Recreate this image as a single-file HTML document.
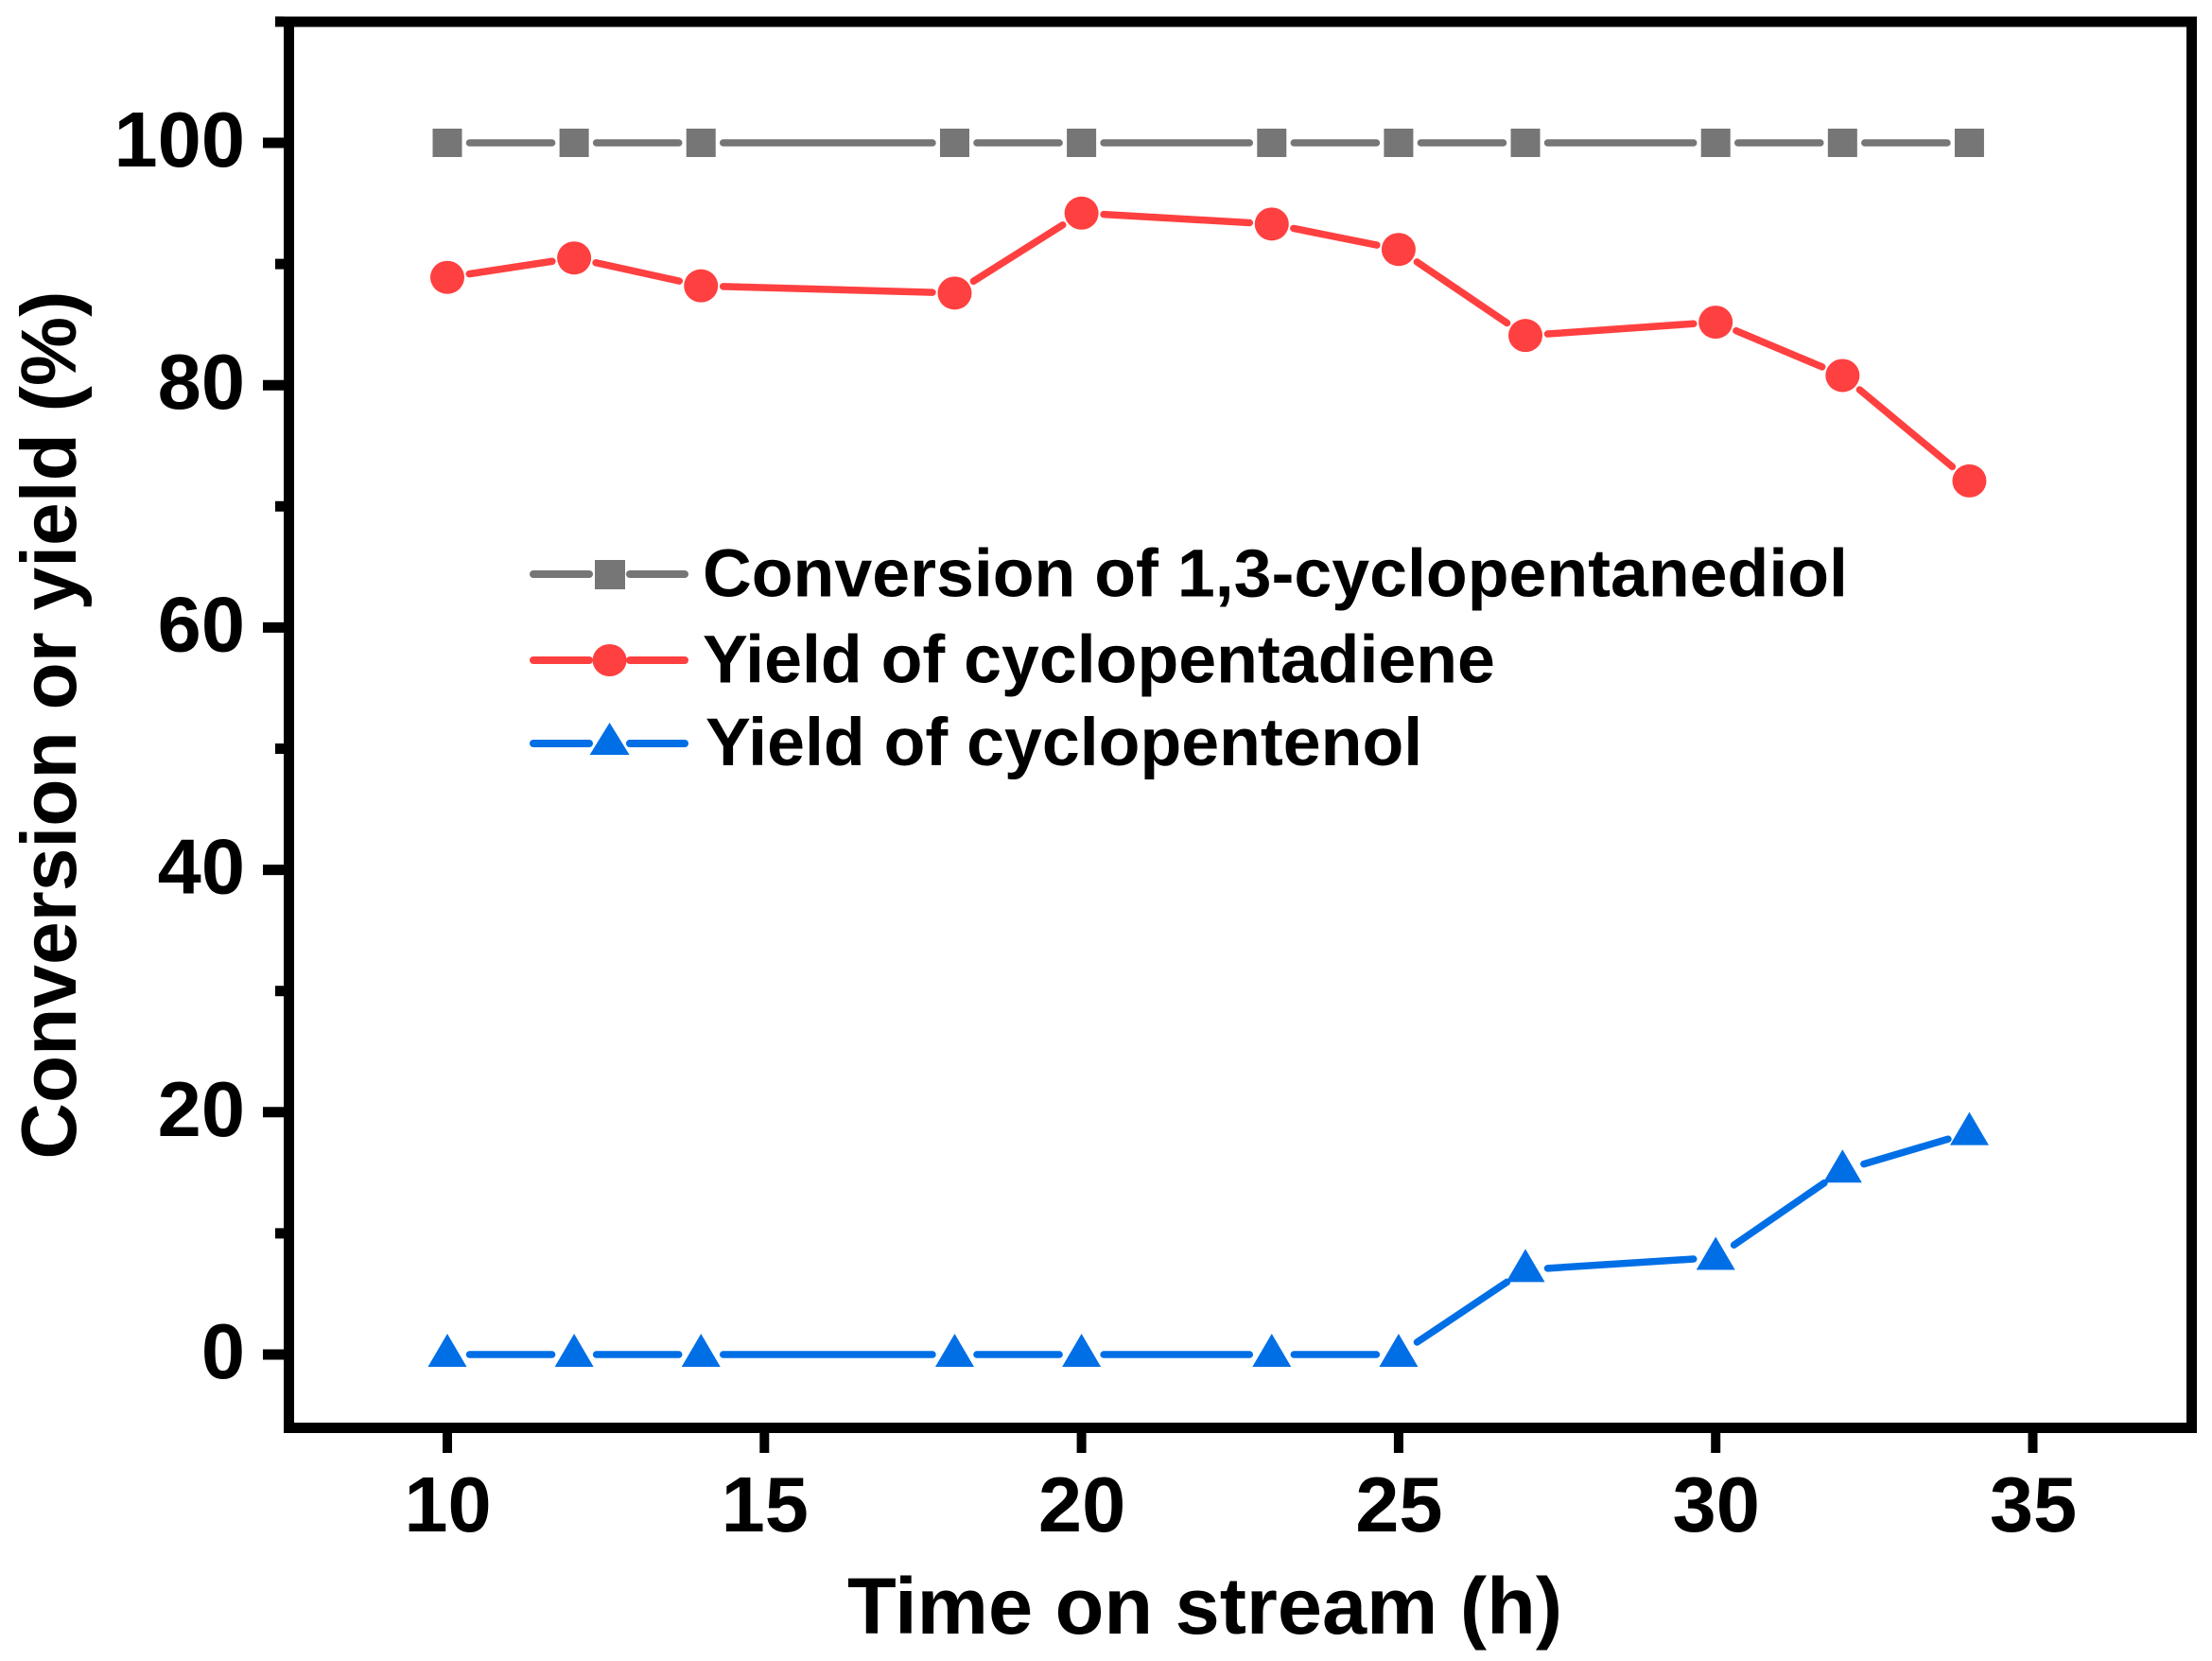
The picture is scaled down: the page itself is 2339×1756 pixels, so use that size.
<!DOCTYPE html>
<html lang="en">
<head>
<meta charset="utf-8">
<title>Conversion or yield vs time on stream</title>
<style>
html,body{margin:0;padding:0;background:#fff;}
svg{display:block;}
text{font-family:"Liberation Sans",Arial,sans-serif;font-weight:bold;fill:#000;}
</style>
</head>
<body>
<svg id="chart" xmlns="http://www.w3.org/2000/svg" width="2339" height="1756" viewBox="0 0 2339 1756">
  <rect x="0" y="0" width="2339" height="1756" fill="#ffffff"/>
  <g id="series-layer"></g>
  <rect x="305.5" y="23" width="2012" height="1486.5" fill="none" stroke="#000" stroke-width="11"/>
  <g id="axis-layer"></g>
  <text x="1274" y="1727" font-size="84.7" text-anchor="middle">Time on stream (h)</text>
  <text transform="translate(80,766.5) rotate(-90)" font-size="82.2" text-anchor="middle">Conversion or yield (%)</text>
  <g>
    <g>
      <line x1="564" y1="607" x2="623" y2="607" stroke="#767676" stroke-width="8" stroke-linecap="round"/>
      <line x1="666" y1="607" x2="724" y2="607" stroke="#767676" stroke-width="8" stroke-linecap="round"/>
      <rect x="629" y="592" width="32" height="31" fill="#767676"/>
      <text x="743" y="630.7" font-size="71.7">Conversion of 1,3-cyclopentanediol</text>
    </g>
    <g>
      <line x1="564" y1="698" x2="623" y2="698" stroke="#ff4040" stroke-width="8" stroke-linecap="round"/>
      <line x1="666" y1="698" x2="724" y2="698" stroke="#ff4040" stroke-width="8" stroke-linecap="round"/>
      <ellipse cx="644.6" cy="698" rx="18" ry="17" fill="#ff4040"/>
      <text x="743" y="721.7" font-size="71.7">Yield of cyclopentadiene</text>
    </g>
    <g>
      <line x1="564" y1="786" x2="623" y2="786" stroke="#006fe6" stroke-width="8" stroke-linecap="round"/>
      <line x1="666" y1="786" x2="724" y2="786" stroke="#006fe6" stroke-width="8" stroke-linecap="round"/>
      <polygon points="644.6,764 665.6,798 623.6,798" fill="#006fe6"/>
      <text x="746" y="809" font-size="71.7">Yield of cyclopentenol</text>
    </g>
  </g>
</svg>
<script>
const timeHours = [10, 12, 14, 18, 20, 23, 25, 27, 30, 32, 34];
const conversionValues = [100, 100, 100, 100, 100, 100, 100, 100, 100, 100, 100];
const cyclopentadieneValues = [88.9, 90.5, 88.2, 87.6, 94.2, 93.3, 91.2, 84.1, 85.2, 80.8, 72.1];
const cyclopentenolValues = [0, 0, 0, 0, 0, 0, 0, 7.0, 8.0, 15.2, 18.3];
const xTickValues = [10, 15, 20, 25, 30, 35];
const yMajorTickValues = [0, 20, 40, 60, 80, 100];
const yMinorTickValues = [10, 30, 50, 70, 90, 110];

const SVG_NS = 'http://www.w3.org/2000/svg';
const xScale = function (v) { return 473 + (v - 10) * 67.06; };
const yScale = function (v) { return 1432 - v * 12.81; };
const seriesLayer = document.getElementById('series-layer');
const axisLayer = document.getElementById('axis-layer');

function make(tag, attrs, parent) {
  const el = document.createElementNS(SVG_NS, tag);
  Object.keys(attrs).forEach(function (k) { el.setAttribute(k, attrs[k]); });
  parent.appendChild(el);
  return el;
}

xTickValues.forEach(function (v) {
  const tick = make('line', { x1: xScale(v), x2: xScale(v), y1: 1515, y2: 1536, stroke: '#000', 'stroke-width': 10 }, axisLayer);
  
  
  const label = make('text', { x: xScale(v) + 0.5, y: 1619, 'font-size': 83, 'text-anchor': 'middle' }, axisLayer);
  label.textContent = String(v);
  
  
});

yMajorTickValues.forEach(function (v) {
  const tick = make('line', { x1: 278, x2: 300, y1: yScale(v), y2: yScale(v), stroke: '#000', 'stroke-width': 11 }, axisLayer);
  
  
  const label = make('text', { x: 259, y: yScale(v) + 25, 'font-size': 83, 'text-anchor': 'end' }, axisLayer);
  label.textContent = String(v);
  
  
});

yMinorTickValues.forEach(function (v) {
  const tick = make('line', { x1: 291, x2: 300, y1: yScale(v), y2: yScale(v), stroke: '#000', 'stroke-width': 11 }, axisLayer);
  
  
});

function drawGappedLine(values, color, name) {
  for (let i = 0; i < values.length - 1; i++) {
    const x1 = xScale(timeHours[i]);
    const y1 = yScale(values[i]);
    const x2 = xScale(timeHours[i + 1]);
    const y2 = yScale(values[i + 1]);
    const len = Math.hypot(x2 - x1, y2 - y1);
    const ux = (x2 - x1) / len;
    const uy = (y2 - y1) / len;
    const gap = 23.5;
    const seg = make('line', {
      x1: x1 + ux * gap, y1: y1 + uy * gap,
      x2: x2 - ux * gap, y2: y2 - uy * gap,
      stroke: color, 'stroke-width': 7.5, 'stroke-linecap': 'round'
    }, seriesLayer);
    
    
  }
}

drawGappedLine(conversionValues, '#767676', 'conversion');
drawGappedLine(cyclopentadieneValues, '#ff4040', 'cyclopentadiene');
drawGappedLine(cyclopentenolValues, '#006fe6', 'cyclopentenol');

timeHours.forEach(function (t, i) {
  const cx = xScale(t);

  const square = make('rect', { x: cx - 15.5, y: yScale(conversionValues[i]) - 15, width: 31, height: 30, fill: '#767676' }, seriesLayer);
  
  

  const circle = make('ellipse', { cx: cx, cy: yScale(cyclopentadieneValues[i]), rx: 18, ry: 17.5, fill: '#ff4040' }, seriesLayer);
  
  

  const cy = yScale(cyclopentenolValues[i]);
  const tri = make('polygon', {
    points: cx + ',' + (cy - 22) + ' ' + (cx + 20.5) + ',' + (cy + 13) + ' ' + (cx - 20.5) + ',' + (cy + 13),
    fill: '#006fe6'
  }, seriesLayer);
  
  
});
</script>
</body>
</html>
